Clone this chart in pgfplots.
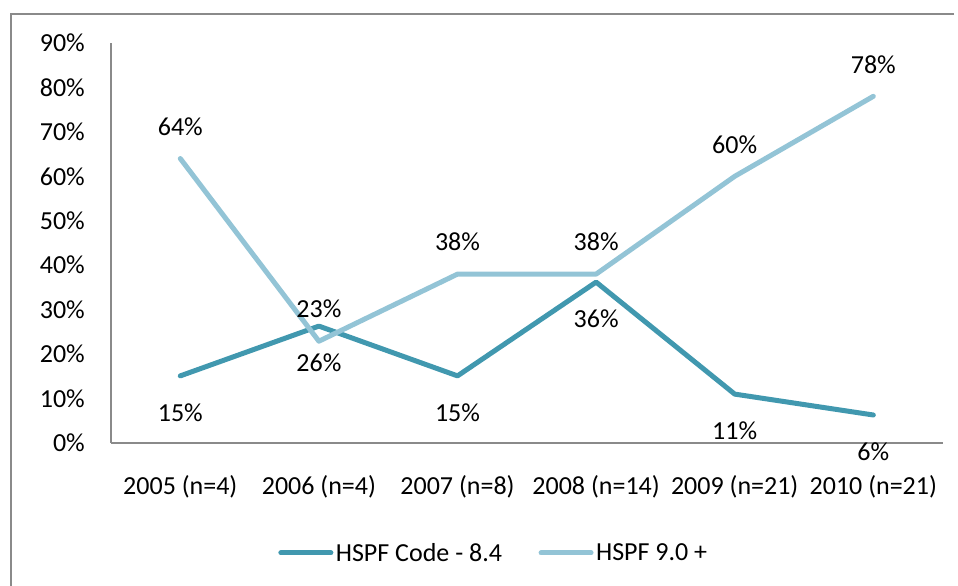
\documentclass[border=0pt]{standalone}
\usepackage{pgfplots}
\pgfplotsset{compat=1.18}
\usepackage{fontspec}
\setmainfont{Carlito}
\definecolor{darkteal}{HTML}{4198AF}
\definecolor{lightteal}{HTML}{93C4D6}
\definecolor{framegray}{HTML}{8A8A8A}
\begin{document}
\begin{tikzpicture}[x=1bp,y=1bp,font=\fontsize{26bp}{31bp}\selectfont]
\useasboundingbox (0,0) rectangle (958,586);
\draw[framegray, line width=2bp] (954,572) -- (11,572) -- (11,0);
\begin{axis}[
  at={(111bp,143bp)}, anchor=south west,
  scale only axis, width=831.6bp, height=400bp,
  xmin=-0.5, xmax=5.5, ymin=0, ymax=90,
  axis x line*=bottom, axis y line*=left,
  axis line style={draw=framegray, line width=1.3bp, -},
  major tick length=0pt,
  xtick={0,1,2,3,4,5},
  xticklabels={2005 (n=4),2006 (n=4),2007 (n=8),2008 (n=14),2009 (n=21),2010 (n=21)},
  ytick={0,10,20,30,40,50,60,70,80,90},
  yticklabels={0\%,10\%,20\%,30\%,40\%,50\%,60\%,70\%,80\%,90\%},
  xticklabel style={anchor=base, inner sep=0pt, yshift=-52bp},
  yticklabel style={anchor=east, inner sep=0pt, xshift=-26bp},
  clip=false,
  legend style={draw=none, fill=none, at={(0.4606,-0.275)}, anchor=center,
    legend columns=2, inner sep=0pt, nodes={inner sep=2.5bp},
    /tikz/every even column/.append style={column sep=34bp}},
  legend image code/.code={\draw[#1, line cap=round] (2.5bp,0bp) -- (52.5bp,0bp);},
  point meta=explicit symbolic,
  nodes near coords={\pgfplotspointmeta},
]
\addplot[darkteal, line width=5bp, line join=round, line cap=round,
  nodes near coords style={anchor=center, inner sep=0pt, yshift=-37bp, text=black}]
  coordinates {(0,15.1) [15\%] (1,26.3) [26\%] (2,15.1) [15\%] (3,36.2) [36\%] (4,11.0) [11\%] (5,6.3) [6\%]};
\addlegendentry{HSPF Code - 8.4}
\addplot[lightteal, line width=5bp, line join=round, line cap=round,
  nodes near coords style={anchor=center, inner sep=0pt, yshift=32bp, text=black}]
  coordinates {(0,64) [64\%] (1,22.9) [23\%] (2,38) [38\%] (3,38) [38\%] (4,60) [60\%] (5,78) [78\%]};
\addlegendentry{HSPF 9.0 +}
\end{axis}
\end{tikzpicture}
\end{document}
